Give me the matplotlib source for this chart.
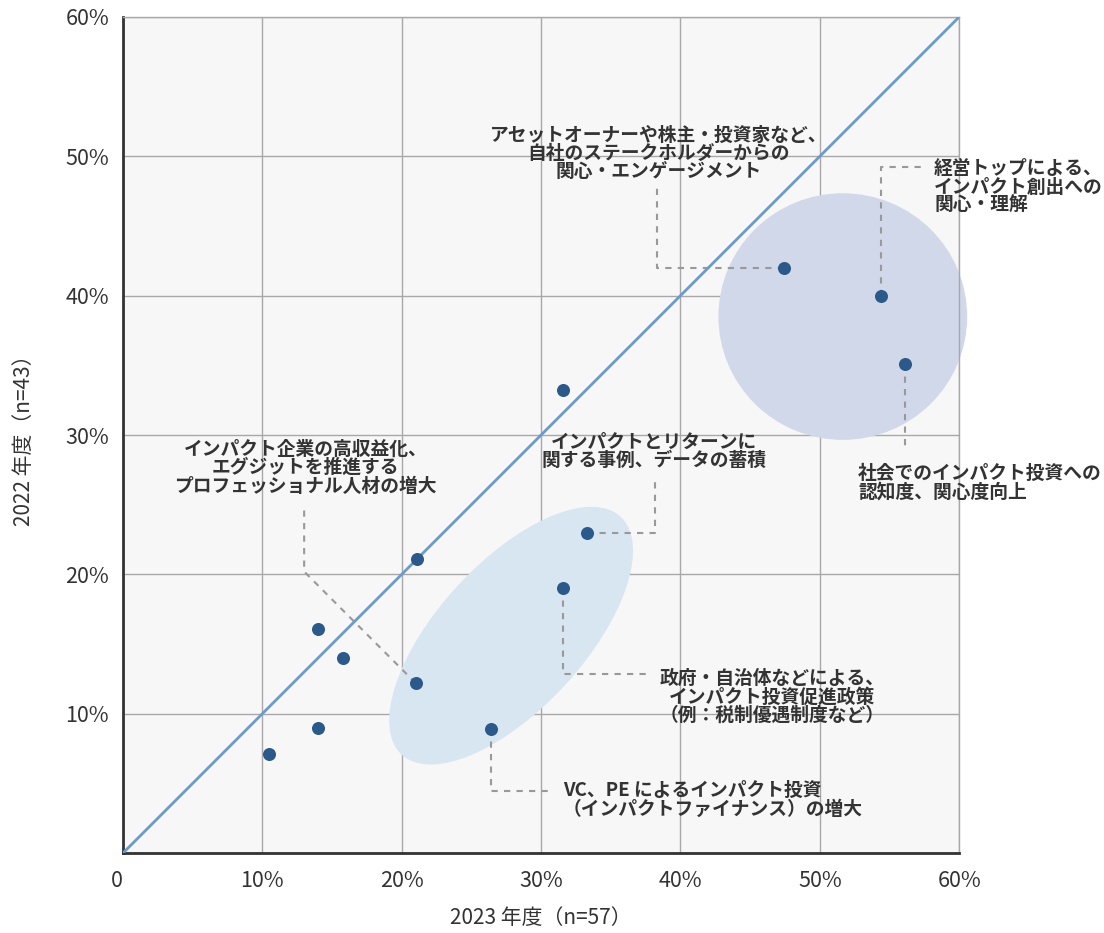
import matplotlib
matplotlib.use("Agg")
import matplotlib.pyplot as plt
from matplotlib.patches import Ellipse
from matplotlib.ticker import FuncFormatter

plt.rcParams['font.family'] = ['Noto Sans CJK JP', 'DejaVu Sans']

# ----------------------------- DATA -----------------------------
# share of respondents, 2023 (x) vs 2022 (y), in %
x_2023 = [10.5, 14.0, 14.0, 15.8, 21.1, 21.0, 26.4, 31.6, 31.6, 33.3, 47.4, 54.4, 56.1]
y_2022 = [7.1, 9.0, 16.1, 14.0, 21.1, 12.2, 8.9, 19.0, 33.2, 23.0, 42.0, 40.0, 35.1]

ticks = [0, 10, 20, 30, 40, 50, 60]

# labelled items: text, connector path (data coords), text anchor, alignment
labels = [
    ("アセットオーナーや株主・投資家など、\n自社のステークホルダーからの\n関心・エンゲージメント",
     [(47.4, 42.0), (38.3, 42.0), (38.3, 47.9)], (38.45, 50.2), 'center'),
    ("経営トップによる、\nインパクト創出への\n関心・理解",
     [(54.4, 40.0), (54.4, 49.25), (57.3, 49.25)], (58.2, 47.8), 'left'),
    ("社会でのインパクト投資への\n認知度、関心度向上",
     [(56.1, 35.1), (56.1, 29.0)], (52.75, 26.6), 'left'),
    ("インパクトとリターンに\n関する事例、データの蓄積",
     [(33.3, 23.0), (38.2, 23.0), (38.2, 26.6)], (38.1, 28.85), 'center'),
    ("インパクト企業の高収益化、\nエグジットを推進する\nプロフェッショナル人材の増大",
     [(21.0, 12.2), (13.0, 20.2), (13.0, 24.6)], (13.1, 27.65), 'center'),
    ("政府・自治体などによる、\nインパクト投資促進政策\n（例：税制優遇制度など）",
     [(31.6, 19.0), (31.6, 12.85), (37.7, 12.85)], (46.6, 11.2), 'center'),
    ("VC、PE によるインパクト投資\n（インパクトファイナンス）の増大",
     [(26.4, 8.9), (26.4, 4.45), (30.7, 4.45)], (31.55, 3.8), 'left'),
]

# highlighted groups: center x, center y, width, height, angle, colour
groups = [
    (51.65, 38.5, 17.85, 17.7, 0, '#d1d8ea'),
    (27.85, 15.6, 23.2, 10.5, 47.4, '#d8e6f2'),
]

# ----------------------------- PLOT -----------------------------
fig = plt.figure(figsize=(11.04, 9.33), dpi=100)
ax = fig.add_axes([0.1114, 0.0857, 0.7574, 0.8961])
ax.set_facecolor('#f7f7f7')

for cx, cy, w, h, ang, col in groups:
    ax.add_patch(Ellipse((cx, cy), w, h, angle=ang, facecolor=col,
                         edgecolor='none', zorder=1, clip_on=False))

ax.plot([0, 60], [0, 60], color='#6b9bc8', lw=2, zorder=3)

for text, path, pos, ha in labels:
    px, py = zip(*path)
    ax.plot(px, py, color='#999999', lw=1.5, ls=(0, (3, 3)), zorder=2, clip_on=False)
    ax.text(pos[0], pos[1], text, ha=ha, va='center', multialignment=ha,
            fontsize=13.5, fontweight='bold', color='#333333', linespacing=0.96,
            zorder=5)

ax.scatter(x_2023, y_2022, s=88, color='#2b5a8a', zorder=4, linewidths=0)

ax.set_xlim(0, 60)
ax.set_ylim(0, 60)
ax.set_xticks(ticks)
ax.set_yticks(ticks)
ax.xaxis.set_major_formatter(FuncFormatter(lambda v, p: '0' if v == 0 else f'{v:.0f}%'))
ax.yaxis.set_major_formatter(FuncFormatter(lambda v, p: '' if v == 0 else f'{v:.0f}%'))
ax.tick_params(axis='both', length=0, labelsize=15.5, colors='#333333')
ax.tick_params(axis='x', pad=12)
ax.tick_params(axis='y', pad=10)
ax.grid(True, color='#a8a8a8', lw=1, zorder=0)
ax.set_axisbelow(True)
ax.get_xticklabels()[0].set_horizontalalignment('right')

for side in ['top', 'right']:
    ax.spines[side].set_color('#a8a8a8')
    ax.spines[side].set_linewidth(1)
for side in ['left', 'bottom']:
    ax.spines[side].set_color('#333333')
    ax.spines[side].set_linewidth(2)

ax.set_xlabel('2023 年度（n=57）', fontsize=15, color='#333333', labelpad=11)
ax.set_ylabel('2022 年度（n=43）', fontsize=15, color='#333333', labelpad=22)

fig.savefig('out.png', dpi=100)
